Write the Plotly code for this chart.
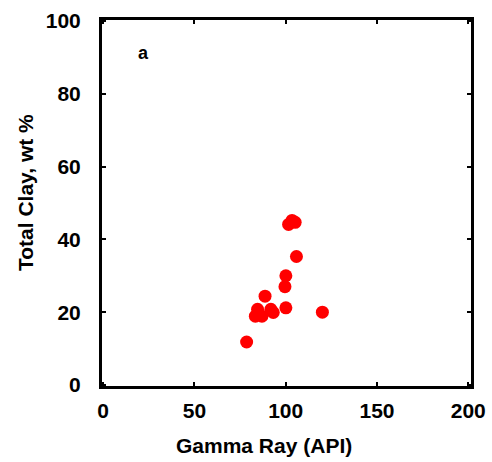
import plotly.graph_objects as go

gamma_ray = [101.6, 105.2, 103.5, 105.9, 100.1, 99.6, 88.7, 100.1, 120.1,
             84.6, 83.4, 87.0, 91.9, 93.2, 78.6]
total_clay = [44.1, 44.7, 45.2, 35.3, 30.0, 27.0, 24.4, 21.2, 20.0,
              20.8, 18.9, 18.9, 20.8, 19.9, 11.8]
x_ticks = [0, 50, 100, 150, 200]
y_ticks = [0, 20, 40, 60, 80, 100]

FONT = "Liberation Sans, Arial, sans-serif"

W, H = 492, 462
l, r, t, b = 102, 21, 20, 76
pw, ph = W - l - r, H - t - b

fig = go.Figure()
fig.add_trace(go.Scatter(
    x=gamma_ray, y=total_clay, mode="markers",
    marker=dict(color="#ff0000", size=13, line=dict(width=0)),
    showlegend=False, hoverinfo="skip", cliponaxis=False,
))

axis_common = dict(
    showline=True, linecolor="black", linewidth=3, mirror="ticks",
    ticks="inside", ticklen=4, tickwidth=2, tickcolor="black",
    showgrid=False, zeroline=False, automargin=False,
    tickfont=dict(family=FONT, size=21, color="black", weight="bold"),
)

fig.update_xaxes(range=[-0.6, 201.5], tickvals=x_ticks, ticklabelstandoff=4, **axis_common)
fig.update_yaxes(range=[-0.3, 100.3], tickvals=y_ticks, ticklabelstandoff=14, **axis_common)


def px_to_paper(px, py):
    return (px - l) / pw, (H - b - py) / ph


gx, gy = px_to_paper(264, 445)
tx, ty = px_to_paper(25, 193)

fig.update_layout(
    width=W, height=H,
    margin=dict(l=l, r=r, t=t, b=b, autoexpand=False),
    plot_bgcolor="white", paper_bgcolor="white",
    annotations=[
        dict(text="<b>Gamma Ray (API)</b>", x=gx, y=gy, xref="paper", yref="paper",
             xanchor="center", yanchor="middle", showarrow=False,
             font=dict(family=FONT, size=21, color="black")),
        dict(text="<b>Total Clay, wt %</b>", x=tx, y=ty, xref="paper", yref="paper",
             xanchor="center", yanchor="middle", textangle=-90, showarrow=False,
             font=dict(family=FONT, size=21, color="black")),
        dict(text="<b>a</b>", x=22.3, y=91.3, xref="x", yref="y", showarrow=False,
             font=dict(family=FONT, size=18, color="black")),
    ],
)

fig.write_html("out.html", post_script="document.body.style.margin='0';",
               config={"displayModeBar": False})
